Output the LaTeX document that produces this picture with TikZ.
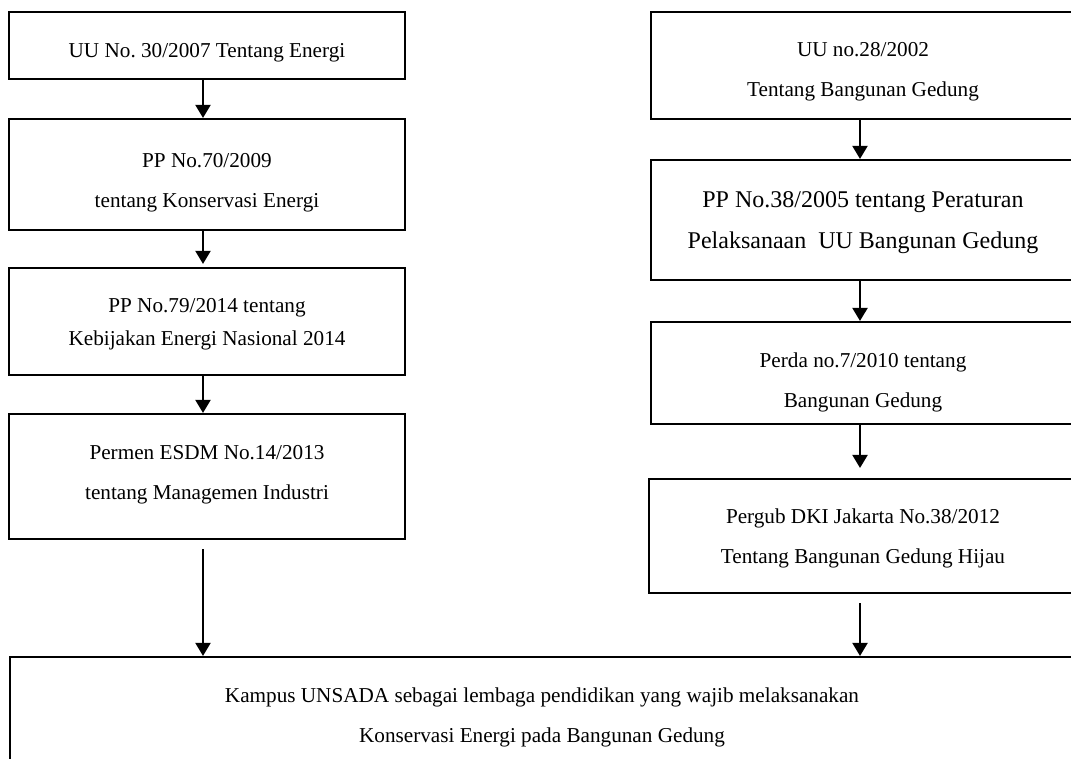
\documentclass[tikz,border=0pt]{standalone}
\usepackage{fontspec}
\setmainfont{Liberation Serif}
\frenchspacing
\usetikzlibrary{arrows.meta}
\tikzset{
  box/.style={draw, line width=2.1pt, inner sep=0pt},
  txt/.style={align=center, inner sep=0pt, font=\fontsize{21.2}{40}\selectfont},
  bigtxt/.style={align=center, inner sep=0pt, font=\fontsize{24}{41}\selectfont},
  arr/.style={line width=2pt, -{Triangle[width=15pt,length=13pt]}},
}
\begin{document}
\begin{tikzpicture}[x=1pt,y=-1pt]
\useasboundingbox (0,0) rectangle (1071,758);
\clip (0,0) rectangle (1071,758);
% left column
\node[box, minimum width=396pt, minimum height=67pt]  (l1) at (207,45.5) {};
\node[box, minimum width=396pt, minimum height=111pt] (l2) at (207,174.5) {};
\node[box, minimum width=396pt, minimum height=107pt] (l3) at (207,321.5) {};
\node[box, minimum width=396pt, minimum height=125pt] (l4) at (207,476.5) {};
% right column
\node[box, minimum width=427pt, minimum height=107pt] (r1) at (864.5,65.5) {};
\node[box, minimum width=427pt, minimum height=120pt] (r2) at (864.5,220) {};
\node[box, minimum width=427pt, minimum height=102pt] (r3) at (864.5,373) {};
\node[box, minimum width=429pt, minimum height=114pt] (r4) at (863.5,536) {};
% bottom
\node[box, minimum width=1068pt, minimum height=143pt] (bot) at (544,728.5) {};
% texts
\node[txt] (tl1) at ([yshift=-7.5pt]l1.center) {UU No. 30/2007 Tentang Energi};
\node[txt] (tl2) at ([yshift=-8pt]l2.center) {PP No.70/2009\\tentang Konservasi Energi};
\node[txt, font=\fontsize{21.2}{33}\selectfont] (tl3) at ([yshift=-2.5pt]l3.center) {PP No.79/2014 tentang\\Kebijakan Energi Nasional 2014};
\node[txt] (tl4) at ([yshift=1.5pt]l4.center) {Permen ESDM No.14/2013\\tentang Managemen Industri};
\node[txt] (tr1) at ([xshift=-1.5pt,yshift=-6.5pt]r1.center) {UU no.28/2002\\Tentang Bangunan Gedung};
\node[bigtxt] (tr2) at ([xshift=-1.5pt,yshift=-2.5pt]r2.center) {PP No.38/2005 tentang Peraturan\\Pelaksanaan\ \ UU Bangunan Gedung};
\node[txt] (tr3) at ([xshift=-1.5pt,yshift=-9pt]r3.center) {Perda no.7/2010 tentang\\Bangunan Gedung};
\node[txt] (tr4) at ([xshift=-0.5pt,yshift=-2pt]r4.center) {Pergub DKI Jakarta No.38/2012\\Tentang Bangunan Gedung Hijau};
\node[txt] (tbot) at ([xshift=-2pt,yshift=11.5pt]bot.center) {Kampus UNSADA sebagai lembaga pendidikan yang wajib melaksanakan\\Konservasi Energi pada Bangunan Gedung};
% arrows left
\draw[arr] ([xshift=-4pt]l1.south) -- ([xshift=-4pt]l2.north);
\draw[arr, shorten >=3pt] ([xshift=-4pt]l2.south) -- ([xshift=-4pt]l3.north);
\draw[arr] ([xshift=-4pt]l3.south) -- ([xshift=-4pt]l4.north);
\draw[arr, shorten <=9pt] ([xshift=-4pt]l4.south) -- ([xshift=-4pt]l4.south |- bot.north);
% arrows right
\draw[arr] ([xshift=-4.5pt]r1.south) -- ([xshift=-4.5pt]r2.north);
\draw[arr] ([xshift=-4.5pt]r2.south) -- ([xshift=-4.5pt]r3.north);
\draw[arr, shorten >=10pt] ([xshift=-4.5pt]r3.south) -- ([xshift=-4.5pt]r3.south |- r4.north);
\draw[arr, shorten <=9pt] ([xshift=-3.5pt]r4.south) -- ([xshift=-3.5pt]r4.south |- bot.north);
\end{tikzpicture}
\end{document}
